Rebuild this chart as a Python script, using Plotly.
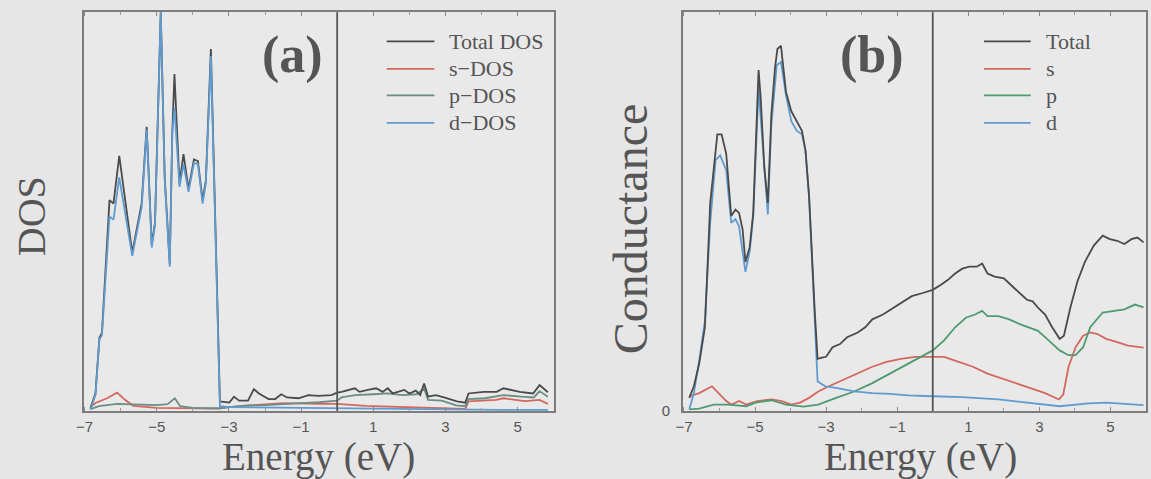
import plotly.graph_objects as go

# ---------------- Panel (a): density of states ----------------
E_a_total = [-6.84, -6.70, -6.59, -6.52, -6.31, -6.20, -6.04, -5.68, -5.42, -5.28, -5.14, -5.05,
             -4.89, -4.78, -4.64, -4.57, -4.51, -4.37, -4.26, -4.12, -3.97, -3.86, -3.73, -3.64,
             -3.50, -3.25, -2.99, -2.86, -2.72, -2.47, -2.31, -2.17, -1.90, -1.72, -1.55, -1.39,
             -1.07, -0.80, -0.52, -0.16, 0.00, 0.12, 0.49, 0.62, 0.85, 1.08, 1.26, 1.40, 1.54,
             1.86, 2.00, 2.18, 2.30, 2.41, 2.52, 2.73, 2.96, 3.32, 3.55, 3.64, 4.06, 4.42, 4.61,
             4.84, 5.06, 5.43, 5.61, 5.84]
dos_total = [0.07, 0.44, 1.84, 1.96, 5.29, 5.20, 6.40, 3.97, 5.20, 7.13, 4.18, 4.71,
             10.0, 5.86, 3.69, 7.00, 8.45, 5.70, 6.44, 5.57, 6.31, 6.27, 5.29, 5.78,
             9.08, 0.24, 0.21, 0.36, 0.26, 0.26, 0.55, 0.44, 0.30, 0.30, 0.42, 0.34,
             0.32, 0.40, 0.38, 0.40, 0.46, 0.48, 0.57, 0.48, 0.53, 0.57, 0.48, 0.57, 0.44,
             0.53, 0.44, 0.51, 0.40, 0.69, 0.36, 0.40, 0.34, 0.24, 0.21, 0.44, 0.48, 0.48, 0.57,
             0.53, 0.48, 0.44, 0.65, 0.47]

E_a_s = [-6.84, -6.70, -6.38, -6.10, -5.88, -5.65, -5.00, -4.00, -3.30, -3.00, -2.00, -1.50,
         -0.50, 0.00, 0.80, 1.70, 2.60, 3.30, 3.55, 3.64, 4.00, 4.40, 4.61, 5.20, 5.61, 5.84]
dos_s = [0.10, 0.20, 0.32, 0.46, 0.28, 0.13, 0.08, 0.06, 0.06, 0.10, 0.16, 0.20,
         0.18, 0.18, 0.13, 0.11, 0.08, 0.06, 0.05, 0.24, 0.26, 0.28, 0.32, 0.25, 0.28, 0.18]

E_a_p = [-6.84, -6.60, -6.10, -5.50, -5.00, -4.70, -4.50, -4.35, -4.00, -3.50, -3.25, -3.00,
         -2.50, -2.00, -1.50, -1.00, -0.50, 0.00, 0.12, 0.50, 1.00, 1.40, 1.80, 2.20, 2.41,
         2.52, 2.90, 3.30, 3.55, 3.64, 4.10, 4.60, 5.10, 5.45, 5.61, 5.84]
dos_p = [0.05, 0.12, 0.18, 0.16, 0.15, 0.17, 0.32, 0.12, 0.08, 0.07, 0.07, 0.10,
         0.14, 0.15, 0.18, 0.20, 0.22, 0.26, 0.34, 0.40, 0.42, 0.44, 0.40, 0.42, 0.56,
         0.28, 0.26, 0.14, 0.12, 0.30, 0.32, 0.40, 0.36, 0.34, 0.50, 0.36]

E_a_d = [-6.84, -6.70, -6.59, -6.52, -6.31, -6.20, -6.04, -5.68, -5.42, -5.28, -5.14, -5.05,
         -4.89, -4.78, -4.64, -4.57, -4.51, -4.37, -4.26, -4.12, -3.97, -3.86, -3.73, -3.64,
         -3.50, -3.25, -3.00, -2.00, -1.00, 0.00, 1.00, 2.00, 3.00, 3.55, 4.50, 5.84]
dos_d = [0.03, 0.40, 1.80, 1.90, 4.88, 4.80, 5.86, 3.89, 5.10, 7.05, 4.10, 4.65,
         10.0, 5.80, 3.62, 7.00, 7.60, 5.62, 6.19, 5.50, 6.22, 6.20, 5.20, 5.70,
         8.90, 0.12, 0.10, 0.09, 0.08, 0.07, 0.06, 0.05, 0.04, 0.03, 0.03, 0.03]

# ---------------- Panel (b): conductance ----------------
E_b_total = [-6.85, -6.72, -6.57, -6.41, -6.26, -6.11, -6.06, -5.94, -5.81, -5.67, -5.55, -5.45,
             -5.35, -5.27, -5.15, -5.05, -4.90, -4.84, -4.74, -4.64, -4.54, -4.44, -4.37, -4.27,
             -4.13, -3.98, -3.83, -3.68, -3.58, -3.48, -3.32, -3.24, -3.12, -3.00, -2.82, -2.61,
             -2.41, -2.11, -1.90, -1.70, -1.40, -1.09, -0.79, -0.59, -0.28, 0.00, 0.22, 0.43,
             0.63, 0.83, 1.03, 1.24, 1.39, 1.54, 1.74, 2.00, 2.20, 2.45, 2.65, 2.81, 2.96, 3.16,
             3.36, 3.57, 3.69, 3.87, 4.07, 4.28, 4.53, 4.78, 4.98, 5.19, 5.39, 5.59, 5.76, 5.93]
g_total = [0.33, 0.62, 1.19, 2.10, 5.22, 6.61, 6.94, 6.94, 6.45, 4.89, 5.05, 4.97,
           4.56, 3.74, 4.11, 4.97, 8.55, 7.85, 6.12, 5.22, 7.44, 8.59, 9.08, 9.16,
           8.01, 7.52, 7.27, 7.03, 6.53, 5.39, 2.51, 1.31, 1.34, 1.36, 1.60, 1.68,
           1.85, 1.97, 2.10, 2.30, 2.42, 2.59, 2.75, 2.88, 2.96, 3.04, 3.16, 3.29,
           3.45, 3.57, 3.62, 3.62, 3.70, 3.45, 3.37, 3.33, 3.16, 2.96, 2.79, 2.75, 2.59, 2.42,
           2.10, 1.81, 1.89, 2.59, 3.25, 3.74, 4.15, 4.40, 4.31, 4.27, 4.19, 4.31, 4.35, 4.23]

E_b_s = [-6.85, -6.57, -6.21, -6.06, -5.81, -5.66, -5.45, -5.25, -4.94, -4.54, -4.24, -3.98,
         -3.73, -3.48, -3.22, -2.92, -2.51, -2.11, -1.70, -1.30, -0.90, -0.49, 0.00, 0.32,
         0.73, 1.13, 1.54, 1.94, 2.35, 2.75, 3.16, 3.55, 3.67, 3.82, 4.02, 4.23, 4.43, 4.63,
         4.88, 5.19, 5.49, 5.93]
g_s = [0.37, 0.45, 0.62, 0.49, 0.25, 0.16, 0.25, 0.16, 0.25, 0.29, 0.25, 0.16,
       0.21, 0.33, 0.49, 0.62, 0.78, 0.94, 1.11, 1.23, 1.31, 1.36, 1.36, 1.36,
       1.23, 1.11, 0.94, 0.82, 0.70, 0.58, 0.45, 0.29, 0.41, 1.11, 1.60, 1.89, 1.97, 1.93,
       1.81, 1.73, 1.64, 1.59]

E_b_p = [-6.85, -6.57, -6.16, -5.76, -5.25, -4.94, -4.54, -4.13, -3.63, -3.22, -2.72, -2.21,
         -1.70, -1.20, -0.69, -0.28, 0.00, 0.32, 0.63, 0.93, 1.19, 1.39, 1.54, 1.85, 2.15,
         2.45, 2.81, 2.96, 3.26, 3.57, 3.82, 4.02, 4.23, 4.43, 4.78, 5.09, 5.39, 5.69, 5.93]
g_p = [0.04, 0.06, 0.16, 0.16, 0.12, 0.22, 0.27, 0.16, 0.11, 0.16, 0.33, 0.49,
       0.70, 0.94, 1.19, 1.40, 1.52, 1.77, 2.10, 2.34, 2.42, 2.51, 2.38, 2.38, 2.30,
       2.18, 2.05, 2.01, 1.77, 1.52, 1.40, 1.40, 1.60, 2.10, 2.47, 2.51, 2.55, 2.67, 2.60]

E_b_d = [-6.85, -6.72, -6.57, -6.41, -6.26, -6.11, -5.98, -5.81, -5.67, -5.55, -5.45, -5.27,
         -5.15, -5.05, -4.90, -4.74, -4.64, -4.54, -4.39, -4.27, -4.13, -3.98, -3.83, -3.68,
         -3.58, -3.48, -3.32, -3.24, -3.02, -2.72, -2.21, -1.70, -1.20, -0.69, 0.00, 0.83,
         1.85, 2.86, 3.57, 4.38, 4.88, 5.93]
g_d = [0.04, 0.45, 1.27, 2.26, 4.72, 6.29, 6.41, 6.04, 4.72, 4.81, 4.64, 3.49,
       4.00, 4.89, 8.09, 6.04, 4.93, 7.19, 8.67, 8.75, 7.93, 7.27, 7.03, 6.94,
       6.53, 5.39, 2.51, 0.74, 0.62, 0.58, 0.49, 0.45, 0.43, 0.39, 0.37, 0.35,
       0.29, 0.19, 0.12, 0.19, 0.21, 0.15]

# ---------------- Labels ----------------
tick_vals = [-7, -5, -3, -1, 1, 3, 5]
tick_text = ["\u22127", "\u22125", "\u22123", "\u22121", "1", "3", "5"]
legend_a = ["Total DOS", "s\u2212DOS", "p\u2212DOS", "d\u2212DOS"]
legend_b = ["Total", "s", "p", "d"]

# ---------------- Styling ----------------
W, H = 1151, 479
SERIF = "Liberation Serif, Times New Roman, serif"
SANS = "Liberation Sans, Arial, sans-serif"
TXT = "#555555"
BG = "#e6e6e6"
colors_a = ["#4a4a4a", "#d4675e", "#6c8d85", "#5f9bd0"]
colors_b = ["#4a4a4a", "#d4675e", "#4e9b72", "#5f9bd0"]

def px_x(x):
    return x / W

def px_y(y):
    return 1 - y / H

fig = go.Figure()

series_a = [(E_a_total, dos_total), (E_a_s, dos_s), (E_a_p, dos_p), (E_a_d, dos_d)]
series_b = [(E_b_total, g_total), (E_b_s, g_s), (E_b_p, g_p), (E_b_d, g_d)]

# partial curves underneath; in (a) the d curve sits over the total one
order_a = [1, 2, 0, 3]
order_b = [1, 2, 3, 0]
for i in order_a:
    x, y = series_a[i]
    fig.add_trace(go.Scatter(x=x, y=y, mode="lines", xaxis="x", yaxis="y",
                             line=dict(color=colors_a[i], width=1.8), showlegend=False,
                             name=legend_a[i]))
for i in order_b:
    x, y = series_b[i]
    fig.add_trace(go.Scatter(x=x, y=y, mode="lines", xaxis="x2", yaxis="y2",
                             line=dict(color=colors_b[i], width=1.8), showlegend=False,
                             name=legend_b[i]))

xdom_a = [px_x(77), px_x(550)]
xdom_b = [px_x(680), px_x(1146)]
ydom = [px_y(418), px_y(12.5)]

xcommon = dict(range=[-7.03, 6.0], tickvals=tick_vals, ticktext=tick_text,
               ticks="inside", ticklen=4, tickcolor="#8a8a8a", tickwidth=1,
               minor=dict(dtick=1, tick0=0, ticks="inside", ticklen=3, tickcolor="#9a9a9a"),
               showline=True, linecolor="#7d7d7d", linewidth=1.5, mirror="ticks",
               showgrid=False, zeroline=False,
               tickfont=dict(family=SANS, size=15, color=TXT), ticklabelstandoff=1)
ycommon = dict(range=[0, 10], showline=True, linecolor="#7d7d7d", linewidth=1.5, mirror=True,
               showgrid=False, zeroline=False, domain=ydom)

fig.update_layout(
    width=W, height=H, margin=dict(l=0, r=0, t=0, b=0),
    paper_bgcolor=BG, plot_bgcolor="#e9e9e9",
    xaxis=dict(domain=xdom_a, anchor="y", **xcommon),
    xaxis2=dict(domain=xdom_b, anchor="y2", **xcommon),
    yaxis=dict(anchor="x", showticklabels=False, ticks="", **ycommon),
    yaxis2=dict(anchor="x2", tickvals=[0], ticktext=["0"], ticks="",
                tickfont=dict(family=SANS, size=15, color=TXT), ticklabelstandoff=8, **ycommon),
)

# Fermi level markers
for xr, yr in [("x", "y domain"), ("x2", "y2 domain")]:
    fig.add_shape(type="line", xref=xr, yref=yr, x0=0, x1=0, y0=0, y1=1,
                  line=dict(color="#555555", width=1.8))

annotations = []
# axis titles
annotations.append(dict(text="DOS", x=px_x(24), y=px_y(220), textangle=-90,
                        font=dict(family=SERIF, size=40, color=TXT)))
annotations.append(dict(text="Conductance", x=px_x(627), y=px_y(233), textangle=-90,
                        font=dict(family=SERIF, size=48, color=TXT)))
for cx in (313, 919):
    annotations.append(dict(text="Energy (eV)", x=px_x(cx), y=px_y(465),
                            font=dict(family=SERIF, size=39, color=TXT)))
# panel tags
annotations.append(dict(text="<b>(a)</b>", x=px_x(287), y=px_y(56),
                        font=dict(family=SERIF, size=52, color=TXT)))
annotations.append(dict(text="<b>(b)</b>", x=px_x(870), y=px_y(56),
                        font=dict(family=SERIF, size=52, color=TXT)))

# legends
rows = [42, 70, 97, 125]
for labels, cols, lx0, lx1, tx in [(legend_a, colors_a, 382, 430, 443),
                                   (legend_b, colors_b, 983, 1030, 1043)]:
    for lab, col, ry in zip(labels, cols, rows):
        fig.add_shape(type="line", xref="paper", yref="paper",
                      x0=px_x(lx0), x1=px_x(lx1), y0=px_y(ry), y1=px_y(ry),
                      line=dict(color=col, width=1.8))
        annotations.append(dict(text=lab, x=px_x(tx), y=px_y(ry), xanchor="left",
                                font=dict(family=SERIF, size=22, color=TXT)))

for a in annotations:
    a.setdefault("xref", "paper")
    a.setdefault("yref", "paper")
    a.setdefault("showarrow", False)
    a.setdefault("xanchor", "center")
    a.setdefault("yanchor", "middle")
fig.update_layout(annotations=annotations)

fig.write_html("out.html")
